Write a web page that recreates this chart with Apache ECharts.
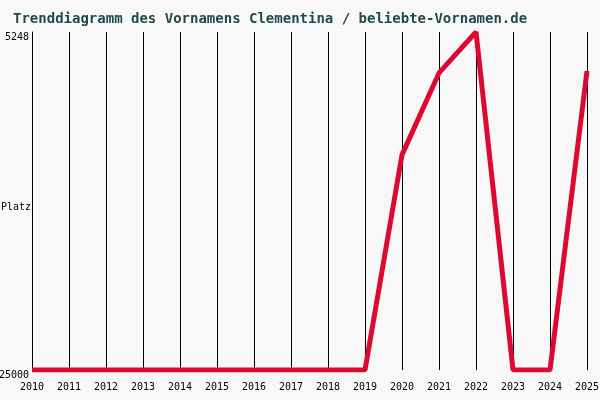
<!DOCTYPE html>
<html><head><meta charset="utf-8">
<script src="https://cdn.jsdelivr.net/npm/echarts@6/dist/echarts.min.js"></script>
<style>html,body{margin:0;padding:0;background:#f8f8f8}#c{width:600px;height:400px}</style>
</head><body><div id="c"></div>
<script>
const years = ['2010','2011','2012','2013','2014','2015','2016','2017','2018','2019','2020','2021','2022','2023','2024','2025'];
const ranks = [25000,25000,25000,25000,25000,25000,25000,25000,25000,25000,12430,7640,5248,25000,25000,7530];
const yTicks = [5248,25000];
const chart = echarts.init(document.getElementById('c'));
chart.setOption({
  backgroundColor:'#f8f8f8',
  animation:false,
  title:{text:'Trenddiagramm des Vornamens Clementina / beliebte-Vornamen.de',left:8,top:7,
    textStyle:{fontFamily:'DejaVu Sans Mono',fontSize:14,fontWeight:'bold',color:'#1f4a4a'}},
  graphic:[{type:'text',left:1,top:202,style:{text:'Platz',font:'10px DejaVu Sans Mono',fill:'#000'}}],
  grid:{left:32,right:13,top:32,bottom:30,containLabel:false,outerBoundsMode:'none'},
  xAxis:{type:'category',data:years,boundaryGap:false,
    axisLine:{show:false},axisTick:{show:false},
    axisLabel:{fontFamily:'DejaVu Sans Mono',fontSize:10,color:'#000',margin:12},
    splitLine:{show:true,lineStyle:{color:'#000',width:1}}},
  yAxis:{type:'value',inverse:true,min:5248,max:25000,
    axisLine:{show:true,lineStyle:{color:'#000'}},axisTick:{show:false},splitLine:{show:false},
    axisLabel:{customValues:yTicks,formatter:v=>String(v),fontFamily:'DejaVu Sans Mono',fontSize:10,color:'#000',margin:3,verticalAlign:'top'}},
  series:[{type:'line',data:ranks,symbol:'none',lineStyle:{color:'#dc0a32',width:5}}]
});
</script></body></html>
